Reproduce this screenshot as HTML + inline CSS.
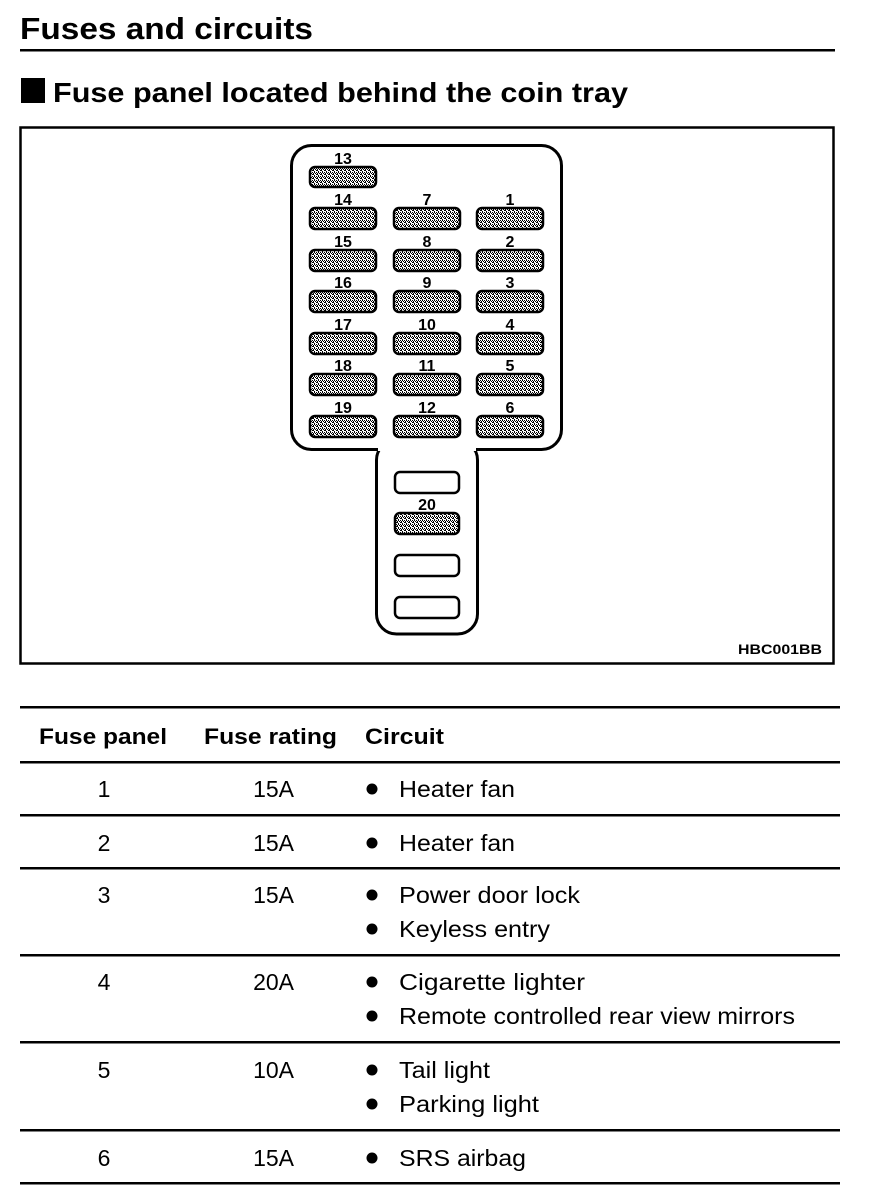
<!DOCTYPE html>
<html><head><meta charset="utf-8"><style>
html,body{margin:0;padding:0;background:#fff;}
svg{display:block;}
text{font-family:"Liberation Sans",sans-serif;fill:#000;}
</style></head><body>
<svg width="880" height="1200" viewBox="0 0 880 1200" xmlns="http://www.w3.org/2000/svg">
<defs>
<pattern id="dith" width="4" height="4" patternUnits="userSpaceOnUse">
<rect width="4" height="4" fill="#fff"/>
<rect x="0" y="0" width="1" height="1" fill="#000"/><rect x="2" y="0" width="1" height="1" fill="#000"/>
<rect x="1" y="1" width="1" height="1" fill="#000"/><rect x="3" y="1" width="1" height="1" fill="#000"/>
<rect x="0" y="2" width="2" height="1" fill="#000"/><rect x="2" y="3" width="1" height="1" fill="#000"/>
</pattern>
</defs>
<text x="20" y="39" font-size="31" font-weight="bold" textLength="293" lengthAdjust="spacingAndGlyphs">Fuses and circuits</text>
<rect x="20" y="49" width="815" height="2.5" fill="#000"/>
<rect x="21" y="78" width="24" height="25" fill="#000"/>
<text x="53" y="102" font-size="28" font-weight="bold" textLength="575" lengthAdjust="spacingAndGlyphs">Fuse panel located behind the coin tray</text>
<rect x="20.5" y="127.5" width="813" height="536" fill="none" stroke="#000" stroke-width="2.5"/>
<rect x="376.5" y="440" width="101" height="194" rx="20" fill="#fff" stroke="#000" stroke-width="3"/>
<rect x="291.5" y="145.5" width="270" height="304" rx="20" fill="#fff" stroke="#000" stroke-width="3"/>
<rect x="378" y="448" width="98" height="3" fill="#fff"/>
<g stroke="#000" stroke-width="2.5" fill="url(#dith)">
<rect x="310" y="167" width="66" height="20" rx="5"/>
<rect x="310" y="208" width="66" height="21" rx="5"/><rect x="394" y="208" width="66" height="21" rx="5"/><rect x="477" y="208" width="66" height="21" rx="5"/>
<rect x="310" y="250" width="66" height="21" rx="5"/><rect x="394" y="250" width="66" height="21" rx="5"/><rect x="477" y="250" width="66" height="21" rx="5"/>
<rect x="310" y="291" width="66" height="21" rx="5"/><rect x="394" y="291" width="66" height="21" rx="5"/><rect x="477" y="291" width="66" height="21" rx="5"/>
<rect x="310" y="333" width="66" height="21" rx="5"/><rect x="394" y="333" width="66" height="21" rx="5"/><rect x="477" y="333" width="66" height="21" rx="5"/>
<rect x="310" y="374" width="66" height="21" rx="5"/><rect x="394" y="374" width="66" height="21" rx="5"/><rect x="477" y="374" width="66" height="21" rx="5"/>
<rect x="310" y="416" width="66" height="21" rx="5"/><rect x="394" y="416" width="66" height="21" rx="5"/><rect x="477" y="416" width="66" height="21" rx="5"/>
<rect x="395" y="513" width="64" height="21" rx="5"/>
</g>
<g stroke="#000" stroke-width="2.5" fill="#fff">
<rect x="395" y="472" width="64" height="21" rx="5"/>
<rect x="395" y="555" width="64" height="21" rx="5"/>
<rect x="395" y="597" width="64" height="21" rx="5"/>
</g>
<g font-size="16" font-weight="bold" text-anchor="middle">
<text x="343" y="164">13</text>
<text x="343" y="205">14</text><text x="427" y="205">7</text><text x="510" y="205">1</text>
<text x="343" y="247">15</text><text x="427" y="247">8</text><text x="510" y="247">2</text>
<text x="343" y="288">16</text><text x="427" y="288">9</text><text x="510" y="288">3</text>
<text x="343" y="330">17</text><text x="427" y="330">10</text><text x="510" y="330">4</text>
<text x="343" y="371">18</text><text x="427" y="371">11</text><text x="510" y="371">5</text>
<text x="343" y="413">19</text><text x="427" y="413">12</text><text x="510" y="413">6</text>
<text x="427" y="510">20</text>
</g>
<text x="738" y="654" font-size="14" font-weight="bold" textLength="84" lengthAdjust="spacingAndGlyphs">HBC001BB</text>
<g fill="#000">
<rect x="20" y="706" width="820" height="2.5"/>
<rect x="20" y="761" width="820" height="2.5"/>
<rect x="20" y="814" width="820" height="2.5"/>
<rect x="20" y="867" width="820" height="2.5"/>
<rect x="20" y="954" width="820" height="2.5"/>
<rect x="20" y="1041" width="820" height="2.5"/>
<rect x="20" y="1129" width="820" height="2.5"/>
<rect x="20" y="1182" width="820" height="2.5"/>
</g>
<g font-size="22" font-weight="bold">
<text x="39" y="744" textLength="128" lengthAdjust="spacingAndGlyphs">Fuse panel</text>
<text x="204" y="744" textLength="133" lengthAdjust="spacingAndGlyphs">Fuse rating</text>
<text x="365" y="744" textLength="79" lengthAdjust="spacingAndGlyphs">Circuit</text>
</g>
<g font-size="23">
<g text-anchor="middle">
<text x="104" y="797">1</text><text x="104" y="851">2</text><text x="104" y="903">3</text>
<text x="104" y="990">4</text><text x="104" y="1078">5</text><text x="104" y="1166">6</text>
</g>
<g text-anchor="end">
<text x="294" y="797">15A</text><text x="294" y="851">15A</text><text x="294" y="903">15A</text>
<text x="294" y="990">20A</text><text x="294" y="1078">10A</text><text x="294" y="1166">15A</text>
</g>
<text x="399" y="797" textLength="116" lengthAdjust="spacingAndGlyphs">Heater fan</text>
<text x="399" y="851" textLength="116" lengthAdjust="spacingAndGlyphs">Heater fan</text>
<text x="399" y="903" textLength="181" lengthAdjust="spacingAndGlyphs">Power door lock</text>
<text x="399" y="937" textLength="151" lengthAdjust="spacingAndGlyphs">Keyless entry</text>
<text x="399" y="990" textLength="186" lengthAdjust="spacingAndGlyphs">Cigarette  lighter</text>
<text x="399" y="1024" textLength="396" lengthAdjust="spacingAndGlyphs">Remote controlled rear view mirrors</text>
<text x="399" y="1078" textLength="91" lengthAdjust="spacingAndGlyphs">Tail light</text>
<text x="399" y="1112" textLength="140" lengthAdjust="spacingAndGlyphs">Parking light</text>
<text x="399" y="1166" textLength="127" lengthAdjust="spacingAndGlyphs">SRS airbag</text>
</g>
<g fill="#000">
<circle cx="372" cy="789" r="5.5"/><circle cx="372" cy="843" r="5.5"/>
<circle cx="372" cy="895" r="5.5"/><circle cx="372" cy="929" r="5.5"/>
<circle cx="372" cy="982" r="5.5"/><circle cx="372" cy="1016" r="5.5"/>
<circle cx="372" cy="1070" r="5.5"/><circle cx="372" cy="1104" r="5.5"/>
<circle cx="372" cy="1158" r="5.5"/>
</g>
</svg>
</body></html>
